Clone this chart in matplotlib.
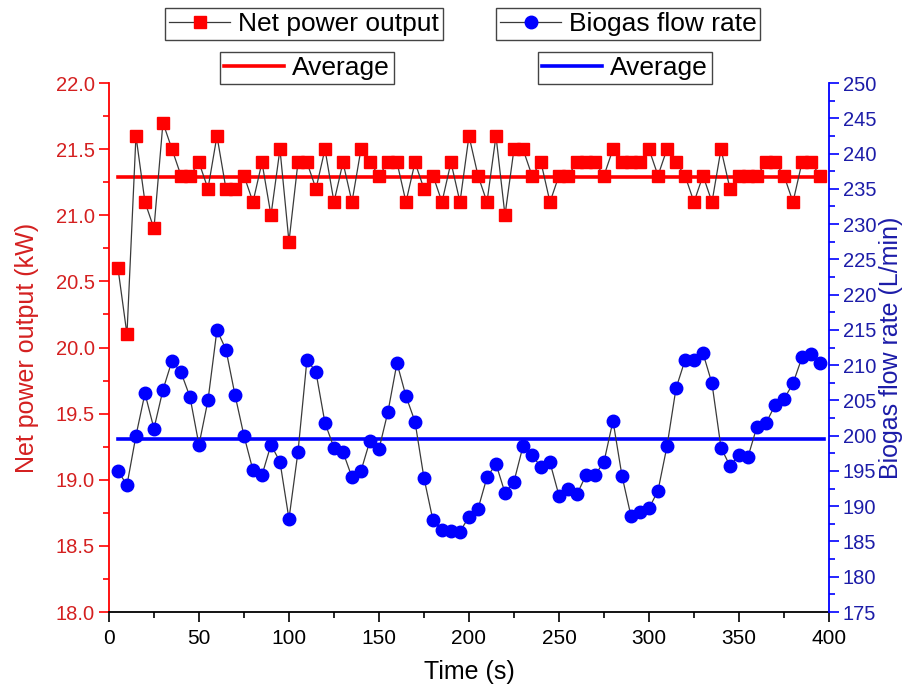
import numpy as np
import matplotlib
matplotlib.use("Agg")
import matplotlib.pyplot as plt
from matplotlib.lines import Line2D
from matplotlib.ticker import MultipleLocator

plt.rcParams['font.family'] = ['Liberation Sans', 'DejaVu Sans']

########
# Data #
########
time_s = [5, 10, 15, 20, 25, 30, 35, 40, 45, 50, 55, 60, 65, 70, 75, 80, 85, 90, 95, 100,
          105, 110, 115, 120, 125, 130, 135, 140, 145, 150, 155, 160, 165, 170, 175, 180, 185, 190, 195, 200,
          205, 210, 215, 220, 225, 230, 235, 240, 245, 250, 255, 260, 265, 270, 275, 280, 285, 290, 295, 300,
          305, 310, 315, 320, 325, 330, 335, 340, 345, 350, 355, 360, 365, 370, 375, 380, 385, 390, 395]

net_power = [20.6, 20.1, 21.6, 21.1, 20.9, 21.7, 21.5, 21.3, 21.3, 21.4,
             21.2, 21.6, 21.2, 21.2, 21.3, 21.1, 21.4, 21.0, 21.5, 20.8,
             21.4, 21.4, 21.2, 21.5, 21.1, 21.4, 21.1, 21.5, 21.4, 21.3,
             21.4, 21.4, 21.1, 21.4, 21.2, 21.3, 21.1, 21.4, 21.1, 21.6,
             21.3, 21.1, 21.6, 21.0, 21.5, 21.5, 21.3, 21.4, 21.1, 21.3,
             21.3, 21.4, 21.4, 21.4, 21.3, 21.5, 21.4, 21.4, 21.4, 21.5,
             21.3, 21.5, 21.4, 21.3, 21.1, 21.3, 21.1, 21.5, 21.2, 21.3,
             21.3, 21.3, 21.4, 21.4, 21.3, 21.1, 21.4, 21.4, 21.3]

biogas_flow = [195.0, 193.0, 200.0, 206.0, 201.0, 206.5, 210.6, 209.0, 205.5, 198.7,
               205.0, 215.0, 212.2, 205.8, 200.0, 195.1, 194.4, 198.7, 196.3, 188.2,
               197.7, 210.8, 209.0, 201.8, 198.3, 197.7, 194.1, 195.0, 199.3, 198.1,
               203.4, 210.3, 205.6, 202.0, 194.0, 188.0, 186.6, 186.5, 186.4, 188.5,
               189.6, 194.1, 196.0, 191.9, 193.5, 198.5, 197.3, 195.5, 196.2, 191.5,
               192.5, 191.7, 194.4, 194.4, 196.3, 202.1, 194.3, 188.6, 189.2, 189.7,
               192.2, 198.5, 206.7, 210.7, 210.8, 211.7, 207.4, 198.3, 195.7, 197.3,
               197.0, 201.3, 201.8, 204.3, 205.2, 207.4, 211.1, 211.6, 210.3]

power_avg = 21.29
biogas_avg = 199.5
avg_span = [5, 397]

RED = '#ff0000'
BLUE = '#0000ff'
RED_TXT = '#d42020'
BLUE_TXT = '#1c1ca8'
LINE_GRAY = '#3a3a3a'

############
# Plotting #
############
fig = plt.figure(figsize=(9.08, 7.0), dpi=100)
ax = fig.add_axes([0.120, 0.1257, 0.793, 0.7557])
ax2 = ax.twinx()

ax.plot(avg_span, [power_avg, power_avg], color=RED, lw=2.6, zorder=2)
ax.plot(time_s, net_power, color=LINE_GRAY, lw=0.9, marker='s', ms=8.2,
        mfc=RED, mec=RED, zorder=3)

ax2.plot(avg_span, [biogas_avg, biogas_avg], color=BLUE, lw=2.6, zorder=2)
ax2.plot(time_s, biogas_flow, color=LINE_GRAY, lw=0.9, marker='o', ms=9.0,
         mfc=BLUE, mec=BLUE, zorder=3)

ax.set_xlim(0, 400)
ax.set_ylim(18.0, 22.0)
ax2.set_ylim(175, 250)

ax.xaxis.set_major_locator(MultipleLocator(50))
ax.xaxis.set_minor_locator(MultipleLocator(25))
ax.yaxis.set_major_locator(MultipleLocator(0.5))
ax.yaxis.set_minor_locator(MultipleLocator(0.25))
ax.yaxis.set_major_formatter(matplotlib.ticker.FormatStrFormatter('%.1f'))
ax2.yaxis.set_major_locator(MultipleLocator(5))
ax2.yaxis.set_minor_locator(MultipleLocator(2.5))

for a in (ax, ax2):
    a.spines['top'].set_visible(False)
ax.spines['right'].set_visible(False)
ax2.spines['left'].set_visible(False)
ax2.spines['bottom'].set_visible(False)
ax.spines['left'].set_color(RED)
ax.spines['bottom'].set_color('black')
ax2.spines['right'].set_color(BLUE)
for sp in ('left', 'bottom'):
    ax.spines[sp].set_linewidth(1.3)
ax2.spines['right'].set_linewidth(1.3)

ax.tick_params(axis='x', which='major', direction='out', length=7, width=1.2,
               labelsize=15, colors='black', pad=5)
ax.tick_params(axis='x', which='minor', direction='out', length=4, width=1.2)
ax.tick_params(axis='y', which='major', direction='out', length=7, width=1.2,
               labelsize=14.5, color=RED, labelcolor=RED_TXT, pad=3)
ax.tick_params(axis='y', which='minor', direction='out', length=4, width=1.2, color=RED)
ax2.tick_params(axis='y', which='major', direction='out', length=7, width=1.2,
                labelsize=14.5, color=BLUE, labelcolor=BLUE_TXT, pad=3)
ax2.tick_params(axis='y', which='minor', direction='out', length=4, width=1.2, color=BLUE)

ax.set_xlabel('Time (s)', fontsize=18, labelpad=9)
ax.set_ylabel('Net power output (kW)', fontsize=18, color=RED_TXT, labelpad=12)
ax2.set_ylabel('Biogas flow rate (L/min)', fontsize=18, color=BLUE_TXT, labelpad=2)

# legends above the plot, each in its own box
leg_kw = dict(fontsize=19, frameon=True, fancybox=False, framealpha=1,
              edgecolor='#444444', borderpad=0.15, handletextpad=0.3,
              borderaxespad=0, handlelength=2.3)

h_power = Line2D([], [], color=LINE_GRAY, lw=0.9, marker='s', ms=8.2, mfc=RED, mec=RED)
h_biogas = Line2D([], [], color=LINE_GRAY, lw=0.9, marker='o', ms=9.0, mfc=BLUE, mec=BLUE)
h_ravg = Line2D([], [], color=RED, lw=2.6)
h_bavg = Line2D([], [], color=BLUE, lw=2.6)

for h, lab, xy in [(h_power, 'Net power output', (0.335, 0.966)),
                   (h_biogas, 'Biogas flow rate', (0.692, 0.966)),
                   (h_ravg, 'Average', (0.338, 0.903)),
                   (h_bavg, 'Average', (0.688, 0.903))]:
    lg = fig.legend([h], [lab], loc='center', bbox_to_anchor=xy, **leg_kw)
    lg.get_frame().set_linewidth(1.0)

fig.savefig('out.png', dpi=100)
